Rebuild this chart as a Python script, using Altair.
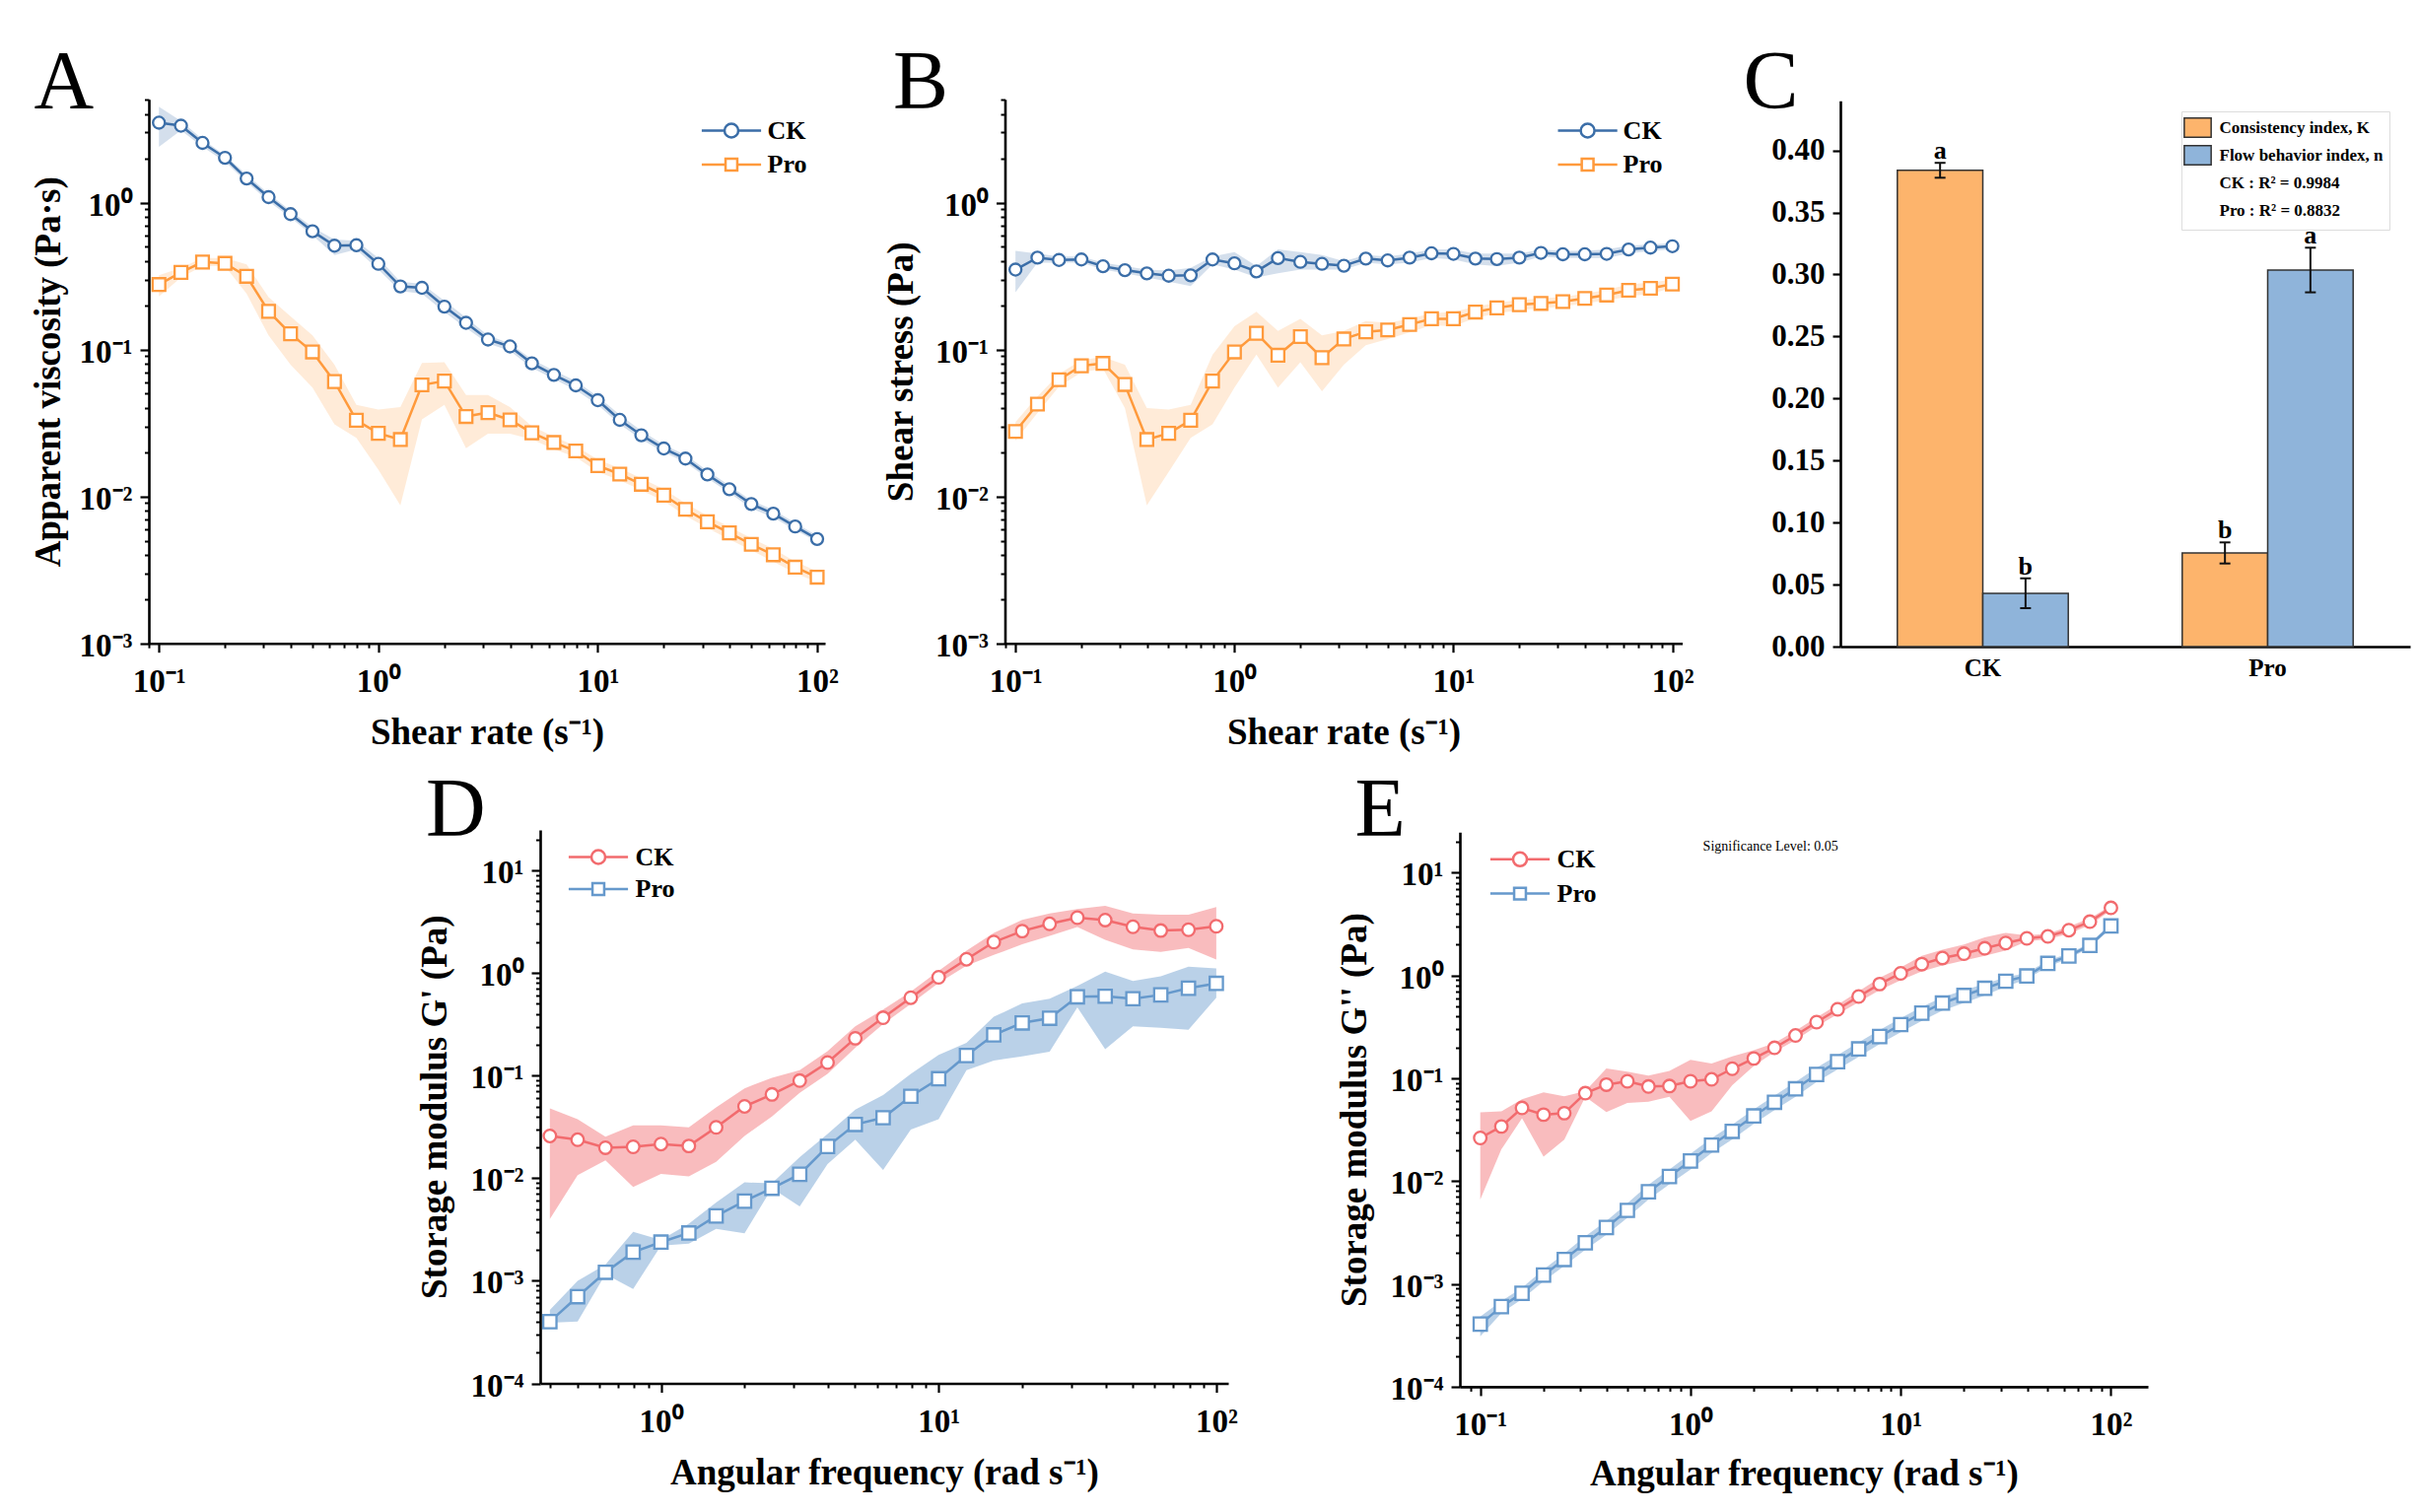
import altair as alt
import pandas as pd

FONT = "Liberation Serif"
SERIES = ["CK", "Pro"]

# ---------------- data ----------------
x31 = [0.1, 0.126, 0.158, 0.2, 0.251, 0.316, 0.398, 0.501, 0.631, 0.794, 1.0, 1.26, 1.58, 2.0,
       2.51, 3.16, 3.98, 5.01, 6.31, 7.94, 10.0, 12.6, 15.8, 20.0, 25.1, 31.6, 39.8, 50.1, 63.1,
       79.4, 100.0]
x25 = [0.398, 0.501, 0.631, 0.794, 1.0, 1.26, 1.58, 2.0, 2.51, 3.16, 3.98, 5.01, 6.31, 7.94,
       10.0, 12.6, 15.8, 20.0, 25.1, 31.6, 39.8, 50.1, 63.1, 79.4, 100.0]

# A: apparent viscosity
A_ck = [3.50, 3.34, 2.55, 2.02, 1.46, 1.09, 0.835, 0.638, 0.509, 0.513, 0.383, 0.269, 0.263, 0.196,
        0.152, 0.117, 0.105, 0.0805, 0.0672, 0.0570, 0.0452, 0.0332, 0.0261, 0.0212, 0.0181, 0.0141,
        0.0112, 0.00887, 0.00763, 0.00624, 0.00513]
A_ck_hi = [4.5, 3.6, 2.7, 2.1, 1.55, 1.15, 0.88, 0.68, 0.56, 0.55, 0.42, 0.29, 0.28, 0.215, 0.165,
           0.125, 0.11, 0.086, 0.072, 0.061, 0.048, 0.036, 0.028, 0.0225, 0.0192, 0.015, 0.0119,
           0.0094, 0.0081, 0.0066, 0.0054]
A_ck_lo = [2.4, 3.1, 2.4, 1.9, 1.38, 1.02, 0.79, 0.60, 0.44, 0.48, 0.35, 0.25, 0.24, 0.18, 0.14,
           0.11, 0.098, 0.075, 0.063, 0.053, 0.042, 0.031, 0.0245, 0.02, 0.0171, 0.0133, 0.0106,
           0.0083, 0.0072, 0.0059, 0.0049]
A_pro = [0.277, 0.335, 0.394, 0.386, 0.315, 0.182, 0.128, 0.0963, 0.0605, 0.033, 0.0269, 0.0244,
         0.0574, 0.061, 0.035, 0.0372, 0.0332, 0.0271, 0.0233, 0.0204, 0.0162, 0.0142, 0.0121,
         0.0102, 0.00817, 0.00672, 0.00565, 0.00472, 0.00401, 0.0033, 0.00282]
A_pro_hi = [0.32, 0.36, 0.42, 0.42, 0.38, 0.227, 0.168, 0.125, 0.079, 0.042, 0.039, 0.0405, 0.081,
            0.082, 0.049, 0.049, 0.0405, 0.030, 0.0255, 0.022, 0.0178, 0.0156, 0.0133, 0.0112,
            0.009, 0.0074, 0.0062, 0.0052, 0.0044, 0.0036, 0.0031]
A_pro_lo = [0.23, 0.31, 0.37, 0.37, 0.24, 0.125, 0.079, 0.055, 0.031, 0.025, 0.0152, 0.0087, 0.0335,
            0.042, 0.0213, 0.0267, 0.0267, 0.0245, 0.021, 0.0185, 0.0147, 0.0129, 0.011, 0.0093,
            0.0074, 0.0061, 0.0051, 0.0043, 0.0036, 0.003, 0.0026]

# B: shear stress
B_ck = [0.350, 0.422, 0.407, 0.410, 0.369, 0.347, 0.330, 0.318, 0.320, 0.410, 0.386, 0.340, 0.419,
        0.395, 0.383, 0.372, 0.416, 0.404, 0.422, 0.452, 0.448, 0.416, 0.413, 0.422, 0.455, 0.445,
        0.445, 0.448, 0.480, 0.494, 0.505]
B_ck_hi = [0.47, 0.45, 0.43, 0.43, 0.39, 0.37, 0.35, 0.345, 0.36, 0.43, 0.46, 0.37, 0.48, 0.46,
           0.44, 0.40, 0.44, 0.43, 0.45, 0.48, 0.48, 0.45, 0.45, 0.45, 0.48, 0.47, 0.47, 0.48,
           0.51, 0.52, 0.53]
B_ck_lo = [0.245, 0.39, 0.39, 0.39, 0.35, 0.33, 0.31, 0.29, 0.27, 0.38, 0.35, 0.31, 0.33, 0.35,
           0.35, 0.35, 0.39, 0.38, 0.39, 0.42, 0.41, 0.38, 0.37, 0.39, 0.43, 0.42, 0.42, 0.42,
           0.45, 0.47, 0.48]
B_pro = [0.0277, 0.0425, 0.0623, 0.0775, 0.0805, 0.0578, 0.0244, 0.0269, 0.033, 0.061, 0.0963,
         0.129, 0.0914, 0.1225, 0.088, 0.118, 0.132, 0.136, 0.148, 0.162, 0.162, 0.180, 0.192,
         0.202, 0.206, 0.212, 0.223, 0.235, 0.253, 0.261, 0.279]
B_pro_hi = [0.032, 0.048, 0.068, 0.085, 0.089, 0.079, 0.040, 0.039, 0.042, 0.092, 0.144, 0.181,
            0.134, 0.162, 0.125, 0.134, 0.156, 0.152, 0.162, 0.177, 0.180, 0.196, 0.208, 0.218,
            0.223, 0.228, 0.240, 0.255, 0.278, 0.285, 0.300]
B_pro_lo = [0.024, 0.037, 0.056, 0.070, 0.074, 0.040, 0.0087, 0.0147, 0.025, 0.031, 0.055, 0.0925,
            0.055, 0.082, 0.052, 0.079, 0.107, 0.118, 0.131, 0.146, 0.144, 0.164, 0.176, 0.186,
            0.190, 0.196, 0.206, 0.216, 0.230, 0.240, 0.262]

# C: power-law parameters
C_cats = ["CK", "CK", "Pro", "Pro"]
C_leg = ["Consistency index, K", "Flow behavior index, n", "CK : R\u00b2 = 0.9984", "Pro : R\u00b2 = 0.8832"]
C_idx = ["Consistency index, K", "Flow behavior index, n", "Consistency index, K", "Flow behavior index, n"]
C_val = [0.384, 0.043, 0.0755, 0.3036]
C_err = [0.006, 0.012, 0.0085, 0.018]
C_lab = ["a", "b", "b", "a"]

# D: storage modulus G'
D_ck = [0.0258, 0.0237, 0.0198, 0.0202, 0.0215, 0.0206, 0.0313, 0.0501, 0.0655, 0.0893, 0.134,
        0.231, 0.366, 0.574, 0.908, 1.36, 2.00, 2.56, 3.01, 3.46, 3.28, 2.82, 2.59, 2.64, 2.85]
D_ck_hi = [0.048, 0.0376, 0.0253, 0.0327, 0.0327, 0.0313, 0.049, 0.075, 0.0953, 0.113, 0.173,
           0.302, 0.439, 0.66, 1.05, 1.65, 2.45, 3.3, 3.8, 4.2, 4.5, 3.8, 3.7, 3.7, 4.4]
D_ck_lo = [0.004, 0.0107, 0.0149, 0.0082, 0.011, 0.0104, 0.0144, 0.0258, 0.0398, 0.0677, 0.104,
           0.187, 0.318, 0.50, 0.80, 1.18, 1.5, 1.9, 2.3, 2.8, 2.1, 1.7, 1.6, 1.75, 1.35]
D_pro = [0.0004, 0.0007, 0.00121, 0.0019, 0.00238, 0.00292, 0.00429, 0.00597, 0.00797, 0.0109,
         0.0204, 0.0334, 0.0388, 0.0628, 0.0931, 0.157, 0.249, 0.326, 0.362, 0.586, 0.593, 0.561,
         0.611, 0.710, 0.791]
D_pro_hi = [0.00052, 0.001, 0.00144, 0.003, 0.0025, 0.0036, 0.0058, 0.0091, 0.0089, 0.016, 0.027,
            0.0465, 0.0644, 0.104, 0.159, 0.208, 0.374, 0.505, 0.561, 0.749, 1.03, 0.834, 0.928,
            1.15, 1.11]
D_pro_lo = [0.00039, 0.0004, 0.00116, 0.00083, 0.0022, 0.0023, 0.0032, 0.0029, 0.008, 0.0053,
            0.0137, 0.0237, 0.012, 0.0297, 0.0376, 0.113, 0.14, 0.154, 0.171, 0.463, 0.181, 0.302,
            0.292, 0.28, 0.574]

# E: loss modulus G''
E_ck = [0.0263, 0.0340, 0.0515, 0.0443, 0.0458, 0.0717, 0.0868, 0.0936, 0.0832, 0.0841, 0.0936,
        0.0977, 0.124, 0.156, 0.198, 0.261, 0.352, 0.469, 0.625, 0.826, 1.05, 1.29, 1.48, 1.63,
        1.84, 2.07, 2.30, 2.40, 2.76, 3.34, 4.55]
E_ck_hi = [0.0468, 0.0476, 0.0625, 0.073, 0.067, 0.075, 0.125, 0.116, 0.106, 0.118, 0.151, 0.139,
           0.163, 0.188, 0.22, 0.29, 0.39, 0.52, 0.70, 0.95, 1.20, 1.55, 1.78, 2.0, 2.35, 2.6,
           2.45, 2.55, 3.0, 3.6, 4.8]
E_ck_lo = [0.0066, 0.0204, 0.0408, 0.0173, 0.0253, 0.066, 0.047, 0.0576, 0.0593, 0.066, 0.0385,
           0.0478, 0.0859, 0.132, 0.18, 0.235, 0.32, 0.42, 0.55, 0.72, 0.90, 1.10, 1.25, 1.40,
           1.55, 1.75, 2.15, 2.25, 2.55, 3.1, 4.3]
E_pro = [0.000406, 0.000601, 0.00081, 0.00122, 0.00173, 0.00251, 0.00354, 0.00519, 0.00787, 0.0111,
         0.0157, 0.0224, 0.0305, 0.0430, 0.0585, 0.0789, 0.109, 0.145, 0.193, 0.255, 0.333, 0.431,
         0.539, 0.639, 0.750, 0.880, 0.989, 1.31, 1.55, 1.96, 3.03]
E_pro_hi = [0.00048, 0.00068, 0.00092, 0.00138, 0.00198, 0.0029, 0.0041, 0.0061, 0.0092, 0.013,
            0.0185, 0.0262, 0.0355, 0.050, 0.068, 0.092, 0.127, 0.168, 0.224, 0.295, 0.385, 0.495,
            0.615, 0.72, 0.83, 0.96, 1.06, 1.40, 1.64, 2.06, 3.20]
E_pro_lo = [0.00031, 0.00052, 0.00071, 0.00106, 0.0015, 0.00215, 0.003, 0.0044, 0.0066, 0.0093,
            0.013, 0.0188, 0.0255, 0.036, 0.049, 0.066, 0.092, 0.122, 0.162, 0.215, 0.28, 0.362,
            0.455, 0.54, 0.64, 0.78, 0.92, 1.22, 1.46, 1.86, 2.88]

# tick values
X_MAJ_ABE = [0.1, 1, 10, 100]
X_MAJ_D = [1, 10, 100]
Y_MAJ_AB = [0.001, 0.01, 0.1, 1]
Y_MAJ_DE = [0.0001, 0.001, 0.01, 0.1, 1, 10]
C_ticks = [0.0, 0.05, 0.10, 0.15, 0.20, 0.25, 0.30, 0.35, 0.40]
X_MIN_ABE = [0.09] + [m * 10.0 ** e for e in (-1, 0, 1) for m in range(2, 10)]
X_MIN_D = [m * 0.1 for m in range(4, 10)] + [m * 10.0 ** e for e in (0, 1) for m in range(2, 10)]
Y_MIN_AB = [m * 10.0 ** e for e in (-3, -2, -1) for m in range(2, 10)] + [2, 3, 4, 5]
Y_MIN_DE = [m * 10.0 ** e for e in (-4, -3, -2, -1, 0) for m in range(2, 10)] + [20]

LABEL_EXPR = "'10' + ['\u207b\u2074','\u207b\u00b3','\u207b\u00b2','\u207b\u00b9','\u2070','\u00b9','\u00b2'][round(log(datum.value)/LN10)+4]"

PATH_C = "M-4.3,0H-1M1,0H4.3M-1,0A1,1,0,1,0,1,0A1,1,0,1,0,-1,0"
PATH_S = "M-4.3,0H-0.85M0.85,0H4.3M-0.85,-0.85H0.85V0.85H-0.85Z"

H = 1518  # view height
LBL = 33


def major_x(offset, values, title, tx, ty):
    return alt.Axis(orient="bottom", offset=offset, values=values, labelExpr=LABEL_EXPR,
                    title=title, titleX=tx, titleY=ty, titleBaseline="alphabetic", titleAlign="center",
                    titleFontSize=37, tickSize=9, tickWidth=2.2, domainWidth=2.6, labelFontSize=LBL,
                    labelPadding=14, labelFlush=False, labelOverlap=False, grid=False)


def major_y(offset, values, title, tx, ty):
    return alt.Axis(orient="left", offset=offset, values=values, labelExpr=LABEL_EXPR,
                    title=title, titleX=tx, titleY=ty, titleAngle=270, titleBaseline="alphabetic",
                    titleAlign="center", titleFontSize=37, tickSize=9, tickWidth=2.2, domainWidth=2.6,
                    labelFontSize=LBL, labelPadding=8, labelBaseline="alphabetic", labelOffset=12.5,
                    labelFlush=False, labelOverlap=False, grid=False)


def minor_axis(orient, offset, values):
    return alt.Axis(orient=orient, offset=offset, values=values, labels=False, domain=False,
                    tickSize=4.5, tickWidth=2, title=None, grid=False)


def line_panel(x, ck, ck_lo, ck_hi, pro, pro_lo, pro_hi, c_ck, c_pro, op_ck, op_pro,
               xs, ys, xaxis, yaxis, xminor, yminor, leg, size_c, size_s):
    d1 = pd.DataFrame({"x": x, "y": ck, "lo": ck_lo, "hi": ck_hi})
    d2 = pd.DataFrame({"x": x, "y": pro, "lo": pro_lo, "hi": pro_hi})

    def X(ax):
        return alt.X("x:Q", scale=xs, axis=ax)

    def Y(ax):
        return alt.Y("y:Q", scale=ys, axis=ax)

    band1 = alt.Chart(d1).mark_area(color=c_ck, opacity=op_ck).encode(
        x=X(xminor), y=alt.Y("lo:Q", scale=ys, axis=yminor), y2="hi:Q")
    band2 = alt.Chart(d2).mark_area(color=c_pro, opacity=op_pro).encode(
        x=X(None), y=alt.Y("lo:Q", scale=ys, axis=None), y2="hi:Q")
    line1 = alt.Chart(d1).mark_line(color=c_ck, strokeWidth=2.5).encode(x=X(xaxis), y=Y(yaxis))
    line2 = alt.Chart(d2).mark_line(color=c_pro, strokeWidth=2.5).encode(x=X(None), y=Y(None))
    pts1 = alt.Chart(d1).mark_point(shape="circle", filled=True, fill="white", stroke=c_ck,
                                    strokeWidth=2.3, size=size_c, opacity=1).encode(x=X(None), y=Y(None))
    pts2 = alt.Chart(d2).mark_point(shape="square", filled=True, fill="white", stroke=c_pro,
                                    strokeWidth=2.3, size=size_s, opacity=1).encode(x=X(None), y=Y(None))
    dummy = alt.Chart(alt.Data(values=[])).mark_point(filled=False, strokeWidth=2.5, opacity=1).encode(
        color=alt.Color("s:N", scale=alt.Scale(domain=SERIES, range=[c_ck, c_pro]), legend=leg),
        shape=alt.Shape("s:N", scale=alt.Scale(domain=SERIES, range=[PATH_C, PATH_S]), legend=leg))
    return alt.layer(band1, band2, line1, line2, pts1, pts2, dummy).resolve_axis(x="independent", y="independent")


def line_legend(lx, ly, lo, rp):
    return alt.Legend(title=None, orient="none", legendX=lx, legendY=ly, labelFont=FONT,
                      labelFontSize=26, labelFontWeight="bold", labelColor="black",
                      symbolStrokeWidth=2.5, symbolSize=196, labelOffset=lo, rowPadding=rp,
                      padding=0, symbolOpacity=1)


# colors
BLUE_A = "#3b6ea8"
ORANGE_A = "#ff9a3c"
RED_D = "#f26b6e"
BLUE_D = "#6699cc"

# ---- panel A ----
xsA = alt.Scale(type="log", domain=[10 ** -1.046, 10 ** 2.036], range=[143, 829], nice=False)
ysAB = alt.Scale(type="log", domain=[0.001, 10 ** 0.703], range=[644.7, 92.8], nice=False)
panelA = line_panel(
    x31, A_ck, A_ck_lo, A_ck_hi, A_pro, A_pro_lo, A_pro_hi, BLUE_A, ORANGE_A, 0.22, 0.2,
    xsA, ysAB,
    major_x(644.7 - H, X_MAJ_ABE, "Shear rate (s\u207b\u00b9)", 486, 102),
    major_y(-143, Y_MAJ_AB, "Apparent viscosity (Pa\u00b7s)", -90.6, 368.75),
    minor_axis("bottom", 644.7 - H, X_MIN_ABE), minor_axis("left", -143, Y_MIN_AB),
    line_legend(721, 111.5, 23.5, 8.5), 145, 165)

# ---- panel B ----
xsB = alt.Scale(type="log", domain=[10 ** -1.048, 10 ** 2.045], range=[1011.5, 1698.6], nice=False)
ysB = alt.Scale(type="log", domain=[0.001, 10 ** 0.703], range=[644.7, 92.8], nice=False)
panelB = line_panel(
    x31, B_ck, B_ck_lo, B_ck_hi, B_pro, B_pro_lo, B_pro_hi, BLUE_A, ORANGE_A, 0.22, 0.2,
    xsB, ysB,
    major_x(644.7 - H, X_MAJ_ABE, "Shear rate (s\u207b\u00b9)", 1355, 102),
    major_y(-1011.5, Y_MAJ_AB, "Shear stress (Pa)", -94.5, 368.75),
    minor_axis("bottom", 644.7 - H, X_MIN_ABE), minor_axis("left", -1011.5, Y_MIN_AB),
    line_legend(1589.6, 111.5, 23, 8.5), 145, 165)

# ---- panel D ----
xsD = alt.Scale(type="log", domain=[10 ** -0.435, 10 ** 2.043], range=[540, 1238], nice=False)
ysD = alt.Scale(type="log", domain=[0.0001, 10 ** 1.395], range=[1395.5, 833.9], nice=False)
panelD = line_panel(
    x25, D_ck, D_ck_lo, D_ck_hi, D_pro, D_pro_lo, D_pro_hi, RED_D, BLUE_D, 0.45, 0.45,
    xsD, ysD,
    major_x(1395.5 - H, X_MAJ_D, "Angular frequency (rad s\u207b\u00b9)", 889, 101.5),
    major_y(-540, Y_MAJ_DE, "Storage modulus G' (Pa)", -95.6, 1114.7),
    minor_axis("bottom", 1395.5 - H, X_MIN_D), minor_axis("left", -540, Y_MIN_DE),
    line_legend(586, 848.5, 24.5, 6.5), 160, 180)

# ---- panel E ----
xsE = alt.Scale(type="log", domain=[10 ** -1.097, 10 ** 2.176], range=[1473, 2171], nice=False)
ysE = alt.Scale(type="log", domain=[0.0001, 10 ** 1.394], range=[1398.9, 836.3], nice=False)
panelE = line_panel(
    x31, E_ck, E_ck_lo, E_ck_hi, E_pro, E_pro_lo, E_pro_hi, RED_D, BLUE_D, 0.45, 0.45,
    xsE, ysE,
    major_x(1398.9 - H, X_MAJ_ABE, "Angular frequency (rad s\u207b\u00b9)", 1822, 100),
    major_y(-1473, Y_MAJ_DE, "Storage modulus G'' (Pa)", -95.6, 1117.6),
    minor_axis("bottom", 1398.9 - H, X_MIN_ABE), minor_axis("left", -1473, Y_MIN_DE),
    line_legend(1521, 850.8, 24.5, 8.8), 160, 180)

# ---- panel C ----
dfc = pd.DataFrame({"cat": C_cats, "idx": C_idx, "val": C_val, "err": C_err, "lab": C_lab})
baseC = alt.Chart(dfc).transform_calculate(lo="datum.val - datum.err", hi="datum.val + datum.err")
xsC = alt.Scale(domain=["CK", "Pro"], range=[1859, 2437], paddingInner=0.4, paddingOuter=0.2)
ysC = alt.Scale(domain=[0, 0.44], range=[648, 94.3], nice=False, zero=True)
xoffC = alt.XOffset("idx:N", scale=alt.Scale(domain=C_leg[:2]))
legC = alt.Legend(title=None, orient="none", legendX=2205, legendY=105,
                  symbolType="M-1.4,-1H1.4V1H-1.4Z", symbolSize=380, symbolStrokeWidth=1.5,
                  labelFont=FONT, labelFontSize=17, labelFontWeight="bold", labelColor="black",
                  labelOffset=11.5, rowPadding=1, padding=6, strokeColor="#dddddd",
                  fillColor="white", labelLimit=400, cornerRadius=0, symbolOpacity=1)
bars = baseC.mark_bar(strokeWidth=1.5, opacity=1).encode(
    x=alt.X("cat:N", scale=xsC, axis=alt.Axis(orient="bottom", offset=648 - H, ticks=False, tickSize=0,
                                             labelAngle=0, labelFontSize=25, labelPadding=9, title=None,
                                             domainWidth=2.6, grid=False)),
    xOffset=xoffC,
    y=alt.Y("val:Q", scale=ysC, axis=alt.Axis(orient="left", offset=-1859, values=C_ticks, format=".2f",
                                             labelFontSize=31, tickSize=8, tickWidth=2.2, labelPadding=8,
                                             domainWidth=2.6, title=None, grid=False, labelOverlap=False,
                                             labelFlush=False)),
    fill=alt.Fill("idx:N", scale=alt.Scale(domain=C_leg, range=["#fdb46c", "#8fb4da", "transparent", "transparent"]),
                  legend=legC),
    stroke=alt.Stroke("idx:N", scale=alt.Scale(domain=C_leg, range=["#333333", "#333333", "transparent", "transparent"]),
                      legend=legC),
)
errs = baseC.mark_rule(color="#111111", strokeWidth=2).encode(
    x=alt.X("cat:N", scale=xsC, axis=None), xOffset=xoffC,
    y=alt.Y("lo:Q", scale=ysC, axis=None), y2="hi:Q")
cap_lo = baseC.mark_tick(color="#111111", thickness=2, size=11, opacity=1).encode(
    x=alt.X("cat:N", scale=xsC, axis=None), xOffset=xoffC, y=alt.Y("lo:Q", scale=ysC, axis=None))
cap_hi = baseC.mark_tick(color="#111111", thickness=2, size=11, opacity=1).encode(
    x=alt.X("cat:N", scale=xsC, axis=None), xOffset=xoffC, y=alt.Y("hi:Q", scale=ysC, axis=None))
letters = baseC.mark_text(font=FONT, fontSize=26, fontWeight="bold", baseline="alphabetic", dy=-4,
                          color="black").encode(
    x=alt.X("cat:N", scale=xsC, axis=None), xOffset=xoffC, y=alt.Y("hi:Q", scale=ysC, axis=None),
    text="lab:N")
panelC = alt.layer(bars, errs, cap_lo, cap_hi, letters).resolve_axis(x="independent", y="independent")


# ---- annotations ----
def note(t, x, y, size, weight="normal"):
    return alt.Chart(alt.Data(values=[{}])).mark_text(
        text=t, font=FONT, fontSize=size, fontWeight=weight, align="left", baseline="alphabetic",
        color="black").encode(x=alt.value(x), y=alt.value(y))


notes = [
    note("A", 26.6, 101.6, 84), note("B", 898, 101.6, 84), note("C", 1760.4, 101.6, 84),
    note("D", 424, 839.7, 84), note("E", 1366.6, 839.7, 84),
    note("Significance Level: 0.05", 1719.6, 855, 14),
]

chart = alt.layer(panelA, panelB, panelC, panelD, panelE, *notes).resolve_scale(
    x="independent", y="independent", color="independent", shape="independent"
).properties(
    width=2438, height=H, padding=0, autosize=alt.AutoSizeParams(type="none")
).configure_view(strokeWidth=0).configure_axis(
    domainColor="black", tickColor="black", labelColor="black", titleColor="black",
    labelFont=FONT, titleFont=FONT, labelFontWeight="bold", titleFontWeight="bold", grid=False
)

chart.save("out.html", embed_options={"renderer": "svg", "actions": False})
